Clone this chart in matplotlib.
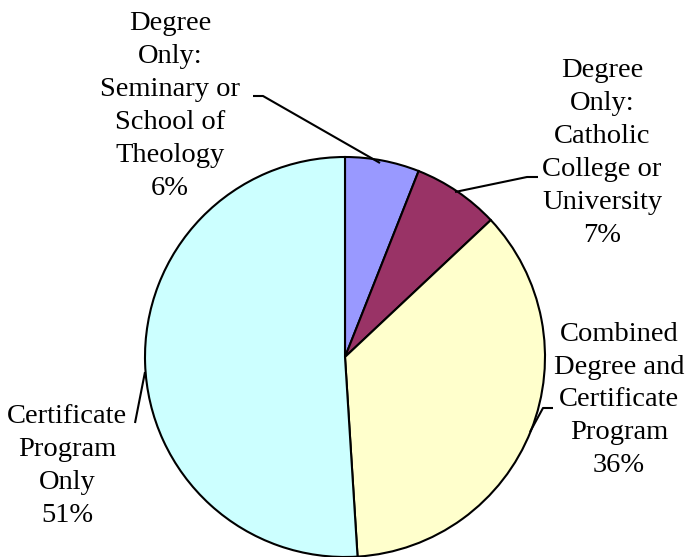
import matplotlib.pyplot as plt

plt.rcParams['font.family'] = ['Liberation Serif', 'DejaVu Serif']

labels = ["Degree\nOnly:\nSeminary or\nSchool of\nTheology",
          "Degree\nOnly:\nCatholic\nCollege or\nUniversity",
          "Combined\nDegree and\nCertificate\nProgram",
          "Certificate\nProgram\nOnly"]
shares = [6, 7, 36, 51]
colors = ["#9999FF", "#993366", "#FFFFCC", "#CCFFFF"]

W, H = 689, 557
fig = plt.figure(figsize=(W / 100, H / 100), dpi=100)
ax = fig.add_axes([0, 0, 1, 1])

ax.pie(shares, colors=colors, startangle=90, counterclock=False,
       center=(345, H - 357), radius=200, frame=True,
       wedgeprops=dict(edgecolor='black', linewidth=1.5))
ax.set_xlim(0, W)
ax.set_ylim(0, H)
ax.set_aspect('equal')
ax.axis('off')

# label centres and leader lines (pixel coords, y from top)
label_pos = [(170, 106), (602, 153), (619, 400), (67, 466)]
leaders = [[(253, 96), (263, 96), (380, 163)],
           [(538, 177), (527, 177), (455, 192)],
           [(553, 408), (543, 408), (530, 432)],
           [(135, 423), (145, 372)]]

for lab, s, (x, y), pts in zip(labels, shares, label_pos, leaders):
    ax.text(x, H - y, f"{lab}\n{s}%", ha='center', va='center',
            fontsize=20.5, linespacing=1.42, color='black')
    ax.plot([p[0] for p in pts], [H - p[1] for p in pts],
            color='black', lw=1.5, solid_capstyle='butt')

fig.savefig("out.png", dpi=100)
